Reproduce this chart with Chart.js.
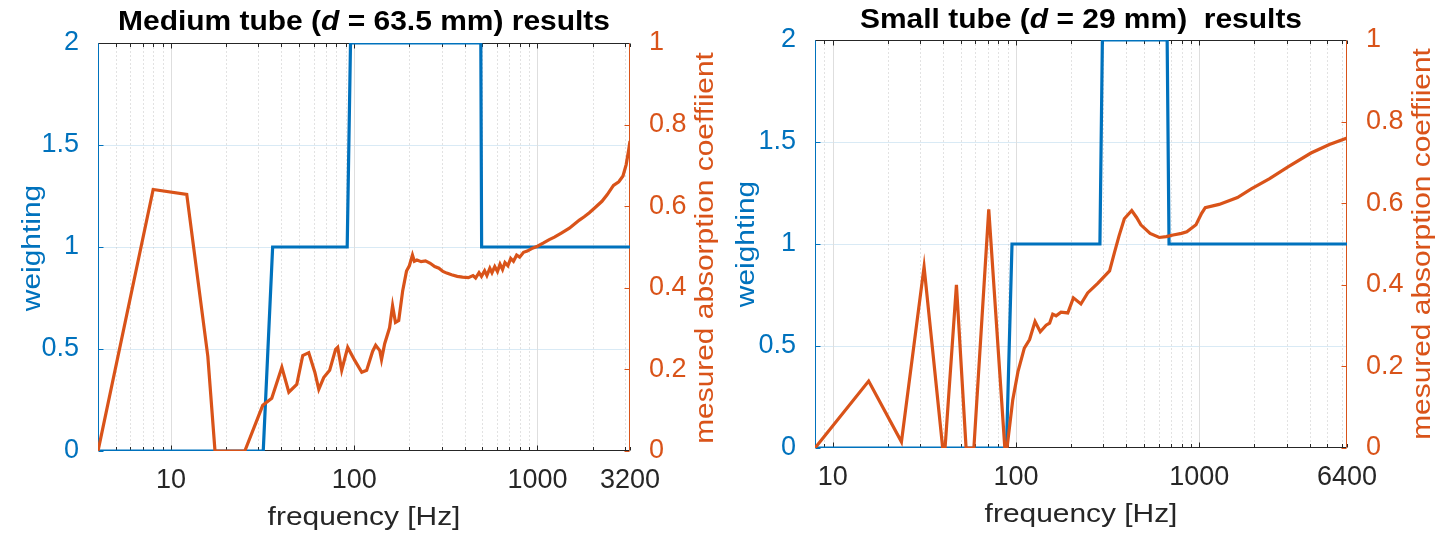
<!DOCTYPE html>
<html>
<head>
<meta charset="utf-8">
<script src="https://cdn.jsdelivr.net/npm/chart.js@4/dist/chart.umd.min.js"></script>
<style>
    html, body { margin: 0; padding: 0; background: #fff; }
    #wrap { position: relative; width: 1453px; height: 534px; }
    canvas { position: absolute; top: 0; }
</style>
</head>
<body>
<div id="wrap">
    <canvas id="medium" width="727" height="534" style="left:0;width:727px;height:534px"></canvas>
    <canvas id="small"  width="726" height="534" style="left:727px;width:726px;height:534px"></canvas>
</div>
<script>
// --- Data: medium tube (d = 63.5 mm) ---

const medWeightFreq = [4, 31.9, 35.9, 91.6, 95.5, 491, 496, 3200];
const medWeight     = [0, 0,    1,    1,    2,    2,   1,   1];

const medAbsFreq = [
    4, 8.0, 12.2, 15.9, 17.4, 25.3, 31.7, 35.5, 40.3, 44, 48.6, 52.4, 56.5, 61, 64.1, 68.2,
    73.5, 79.2, 81.3, 85.5, 92.2, 100.7, 110, 117, 126, 131, 138, 141, 146.7, 156, 162, 168,
    175, 184, 193, 200, 208, 213, 220, 232, 245, 260, 275, 290, 305, 320, 340, 365, 390, 420,
    445, 460, 480, 495, 515, 530, 550, 565, 585, 605, 625, 645, 665, 690, 715, 740, 770, 800,
    840, 880, 930, 1000, 1080, 1160, 1238, 1350, 1494, 1600, 1694, 1800, 1920, 2045, 2250,
    2400, 2600, 2780, 2930, 3050, 3140, 3200
];
const medAbs = [
    0, 0.641, 0.629, 0.232, 0, 0, 0.112, 0.129, 0.205, 0.144, 0.163, 0.234, 0.241, 0.193, 0.151, 0.180,
    0.198, 0.249, 0.254, 0.198, 0.254, 0.222, 0.193, 0.198, 0.244, 0.259, 0.246, 0.224, 0.263, 0.302, 0.356, 0.315,
    0.320, 0.393, 0.441, 0.454, 0.480, 0.465, 0.468, 0.464, 0.466, 0.460, 0.452, 0.448, 0.440, 0.436, 0.432, 0.428, 0.426, 0.425,
    0.430, 0.424, 0.437, 0.428, 0.442, 0.430, 0.448, 0.437, 0.452, 0.440, 0.458, 0.445, 0.462, 0.454, 0.472, 0.465, 0.480, 0.475,
    0.487, 0.490, 0.496, 0.502, 0.510, 0.518, 0.524, 0.534, 0.546, 0.557, 0.566, 0.574, 0.584, 0.595, 0.612,
    0.628, 0.651, 0.660, 0.674, 0.702, 0.735, 0.760
];

const medXLabels = [10, 100, 1000, 3200];

// --- Data: small tube (d = 29 mm) ---

const smlWeightFreq = [8, 88.7, 95.1, 287, 296, 668, 684, 6400];
const smlWeight     = [0, 0,    1,    1,   2,   2,   1,   1];

const smlAbsFreq = [
    8, 15.7, 23.7, 31.5, 39.8, 41, 47.3, 53.4, 58.9, 71, 86.9, 89.3, 96, 102.5, 111, 118.6,
    127, 135.6, 146, 152.5, 158.6, 165.5, 176, 191.6, 205.6, 226, 246, 280, 324, 345, 365, 390,
    428, 455, 480, 539, 605, 660, 720, 800, 855, 960, 1030, 1078, 1283, 1616, 1922, 2421,
    3050, 4070, 5130, 6400
];
const smlAbs = [
    0, 0.164, 0.015, 0.444, 0, 0, 0.400, 0, 0, 0.585, 0, 0, 0.118, 0.187, 0.245, 0.266,
    0.310, 0.285, 0.301, 0.306, 0.328, 0.324, 0.333, 0.331, 0.368, 0.353, 0.380, 0.404, 0.434, 0.480, 0.520, 0.562,
    0.582, 0.565, 0.547, 0.526, 0.516, 0.518, 0.522, 0.526, 0.530, 0.547, 0.575, 0.589, 0.597, 0.614, 0.635, 0.660,
    0.689, 0.723, 0.744, 0.760
];

const smlXLabels = [10, 100, 1000, 6400];

// --- Style ---

const FONT   = '"Liberation Sans", Arial, sans-serif';
const BLUE   = "#0072BD";
const ORANGE = "#D95319";
const INK    = "#262626";

// all 1..9 x 10^n ticks inside [min, max], plus the end value
function logTicks(min, max) {
    const out = [];
    for (let e = 0; e <= 4; e++) {
        for (let m = 1; m <= 9; m++) {
            const v = m * Math.pow(10, e);
            if (v >= min && v <= max) out.push(v);
        }
    }
    if (!out.includes(max)) out.push(max);
    return out;
}

// "2", "1.5", "0.8" ... like MATLAB, no trailing zeros
const plainNum = v => String(Math.round(v * 10) / 10);

function drawText(ctx, parts, x, y, angle, stretch, color) {
    ctx.save();
    ctx.translate(x, y);
    ctx.rotate(angle);
    ctx.scale(stretch, 1);
    let total = 0;
    parts.forEach(p => { ctx.font = p.font; total += ctx.measureText(p.text).width; });
    let cx = -total / 2;
    ctx.fillStyle = color;
    ctx.textAlign = "left";
    ctx.textBaseline = "alphabetic";
    parts.forEach(p => {
        ctx.font = p.font;
        ctx.fillText(p.text, cx, 0);
        cx += ctx.measureText(p.text).width;
    });
    ctx.restore();
}

function hline(ctx, x1, x2, y) { ctx.beginPath(); ctx.moveTo(x1, y); ctx.lineTo(x2, y); ctx.stroke(); }
function vline(ctx, x, y1, y2) { ctx.beginPath(); ctx.moveTo(x, y1); ctx.lineTo(x, y2); ctx.stroke(); }

// MATLAB-like grid, box and inward tick marks
const matlabAxes = {
    id: "matlabAxes",
    beforeDatasetsDraw(chart, args, opts) {
        const { ctx, chartArea: a, scales } = chart;
        const L = Math.round(a.left) + 0.5, R = Math.round(a.right) - 0.5;
        const T = Math.round(a.top) + 0.5,  B = Math.round(a.bottom) - 0.5;
        ctx.save();
        ctx.lineWidth = 1;

        // horizontal grid (left axis)
        ctx.strokeStyle = "#d9eaf5";
        scales.y.ticks.forEach(t => {
            if (t.value <= scales.y.min || t.value >= scales.y.max) return;
            hline(ctx, L, R, Math.round(scales.y.getPixelForValue(t.value)) + 0.5);
        });

        // vertical grid
        scales.x.ticks.forEach(t => {
            const x = Math.round(scales.x.getPixelForValue(t.value)) + 0.5;
            if (x <= L + 1 || x >= R - 1) return;
            if (opts.majors.includes(t.value)) {
                ctx.setLineDash([]);
                ctx.strokeStyle = "#dedede";
            } else {
                ctx.setLineDash([1, 3]);
                ctx.strokeStyle = "#c4c4c4";
            }
            vline(ctx, x, T, B);
        });
        ctx.setLineDash([]);

        // x tick marks, bottom and top
        ctx.strokeStyle = INK;
        scales.x.ticks.forEach(t => {
            const x = Math.round(scales.x.getPixelForValue(t.value)) + 0.5;
            const len = opts.majors.includes(t.value) ? 5 : 3.5;
            vline(ctx, x, B, B - len);
            vline(ctx, x, T, T + len);
        });

        // y tick marks
        ctx.strokeStyle = BLUE;
        scales.y.ticks.forEach(t => {
            const y = Math.round(scales.y.getPixelForValue(t.value)) + 0.5;
            hline(ctx, L, L + 5, y);
        });
        ctx.strokeStyle = ORANGE;
        scales.y2.ticks.forEach(t => {
            const y = Math.round(scales.y2.getPixelForValue(t.value)) + 0.5;
            hline(ctx, R, R - 5, y);
        });

        // box
        ctx.strokeStyle = INK;
        hline(ctx, L, R, T);
        hline(ctx, L, R, B);
        ctx.strokeStyle = BLUE;
        vline(ctx, L, T, B);
        ctx.strokeStyle = ORANGE;
        vline(ctx, R, T, B);
        ctx.restore();
    },
    afterDraw(chart, args, opts) {
        const ctx = chart.ctx;
        const bold = "bold 28px " + FONT;
        const boldIt = "italic bold 28px " + FONT;
        const lab = "26px " + FONT;

        drawText(ctx, [
            { text: opts.title[0], font: bold },
            { text: opts.title[1], font: boldIt },
            { text: opts.title[2], font: bold }
        ], opts.titleX, opts.titleY, 0, 1.07, "#000");

        drawText(ctx, [{ text: "frequency [Hz]", font: lab }], opts.titleX, opts.xLabelY, 0, 1.15, INK);
        drawText(ctx, [{ text: "weighting", font: lab }], opts.leftLabelX, opts.labelMidY, -Math.PI / 2, 1.15, BLUE);
        drawText(ctx, [{ text: "mesured absorption coeffiient", font: lab }], opts.rightLabelX, opts.labelMidY, -Math.PI / 2, 1.15, ORANGE);
    }
};

function toPoints(xs, ys) {
    return xs.map((x, i) => ({ x: x, y: ys[i] }));
}

function makeChart(id, cfg) {
    const canvas = document.getElementById(id);
    const W = canvas.width, H = canvas.height;
    const tickFont = { family: FONT, size: 27 };

    return new Chart(canvas, {
        type: "line",
        data: {
            datasets: [
                {
                    label: "mesured absorption coeffiient",
                    data: toPoints(cfg.absFreq, cfg.abs),
                    yAxisID: "y2",
                    borderColor: ORANGE,
                    borderWidth: 3.2,
                    pointRadius: 0,
                    tension: 0,
                    order: 0
                },
                {
                    label: "weighting",
                    data: toPoints(cfg.wFreq, cfg.w),
                    yAxisID: "y",
                    borderColor: BLUE,
                    borderWidth: 3.2,
                    pointRadius: 0,
                    tension: 0,
                    order: 1
                }
            ]
        },
        options: {
            responsive: false,
            animation: false,
            devicePixelRatio: 1,
            layout: { padding: { top: cfg.box.top, left: 0, right: 0, bottom: 0 } },
            plugins: {
                legend: { display: false },
                tooltip: { enabled: false },
                title: { display: false },
                matlabAxes: cfg.text
            },
            scales: {
                x: {
                    type: "logarithmic",
                    position: "bottom",
                    min: cfg.xMin,
                    max: cfg.xMax,
                    grid: { display: false },
                    border: { display: false },
                    afterBuildTicks: s => { s.ticks = logTicks(cfg.xMin, cfg.xMax).map(v => ({ value: v })); },
                    afterFit: s => { s.height = H - cfg.box.bottom; },
                    ticks: {
                        autoSkip: false,
                        maxRotation: 0,
                        minRotation: 0,
                        padding: 5,
                        color: INK,
                        font: tickFont,
                        callback: v => cfg.xLabels.includes(v) ? String(v) : ""
                    }
                },
                y: {
                    position: "left",
                    min: 0,
                    max: 2,
                    grid: { display: false },
                    border: { display: false },
                    afterFit: s => { s.width = cfg.box.left; },
                    ticks: { stepSize: 0.5, padding: 11, color: BLUE, font: tickFont, callback: plainNum }
                },
                y2: {
                    position: "right",
                    min: 0,
                    max: 1,
                    grid: { display: false },
                    border: { display: false },
                    afterFit: s => { s.width = W - cfg.box.right; },
                    ticks: { stepSize: 0.2, padding: 11, color: ORANGE, font: tickFont, callback: plainNum }
                }
            }
        },
        plugins: [matlabAxes]
    });
}

makeChart("medium", {
    absFreq: medAbsFreq, abs: medAbs,
    wFreq: medWeightFreq, w: medWeight,
    xMin: 4, xMax: 3200, xLabels: medXLabels,
    box: { left: 98, right: 630, top: 43, bottom: 451 },
    text: {
        majors: [10, 100, 1000],
        title: ["Medium tube (", "d", " = 63.5 mm) results"],
        titleX: 364, titleY: 30, xLabelY: 525,
        leftLabelX: 39.5, rightLabelX: 713, labelMidY: 248
    }
});

makeChart("small", {
    absFreq: smlAbsFreq, abs: smlAbs,
    wFreq: smlWeightFreq, w: smlWeight,
    xMin: 8, xMax: 6400, xLabels: smlXLabels,
    box: { left: 88, right: 620, top: 40, bottom: 448 },
    text: {
        majors: [10, 100, 1000],
        title: ["Small tube (", "d", " = 29 mm)  results"],
        titleX: 354, titleY: 28, xLabelY: 522,
        leftLabelX: 26.6, rightLabelX: 703, labelMidY: 244
    }
});
</script>
</body>
</html>
